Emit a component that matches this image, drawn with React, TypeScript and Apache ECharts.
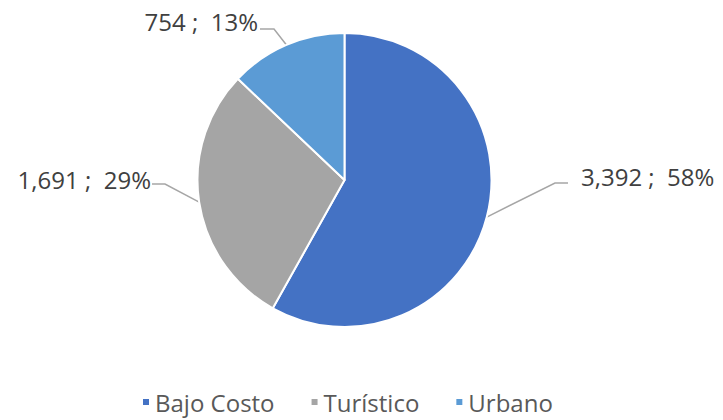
import React, { useEffect, useRef } from "react";
import * as echarts from "echarts";

const categories = ["Bajo Costo", "Turístico", "Urbano"];
const values = [3392, 1691, 754];
const colors = ["#4472C4", "#A5A5A5", "#5B9BD5"];

// label placement: [x, y, align, elbowX, elbowY, endX]
const labelPlacement: [number, number, "left" | "right", number, number, number][] = [
  [581, 176, "left", 555, 183, 568],
  [151, 179, "right", 165, 184, 152],
  [258, 21, "right", 274, 29, 260],
];

export default function App() {
  const ref = useRef<HTMLDivElement>(null);
  useEffect(() => {
    if (!ref.current) return;
    const chart = echarts.init(ref.current, null, { renderer: "svg" });
    const font = "'Open Sans', 'DejaVu Sans', sans-serif";
    chart.setOption({
      animation: false,
      color: colors,
      legend: {
        data: categories,
        bottom: 1,
        left: 136,
        icon: "rect",
        itemWidth: 8,
        itemHeight: 8,
        itemGap: 35,
        textStyle: { color: "#595959", fontSize: 24, fontFamily: font },
      },
      series: [
        {
          type: "pie",
          center: [344.5, 180],
          radius: 147,
          startAngle: 90,
          clockwise: true,
          itemStyle: { borderColor: "#fff", borderWidth: 2 },
          label: {
            show: true,
            color: "#404040",
            fontSize: 24,
            fontFamily: font,
            formatter: (p: any) =>
              `${p.value.toLocaleString("en-US")} ;  ${Math.round(p.percent)}%`,
          },
          labelLine: {
            show: true,
            length: 20,
            length2: 15,
            lineStyle: { color: "#A6A6A6", width: 1.5 },
          },
          labelLayout: (params: any) => {
            const lp = labelPlacement[params.dataIndex];
            const p0 = params.labelLinePoints ? params.labelLinePoints[0] : [lp[3], lp[4]];
            return {
              x: lp[0],
              y: lp[1],
              align: lp[2],
              verticalAlign: "middle",
              labelLinePoints: [p0, [lp[3], lp[4]], [lp[5], lp[4]]],
            };
          },
          data: categories.map((name, i) => ({ name, value: values[i] })),
        },
      ],
    });
    return () => chart.dispose();
  }, []);
  return (
    <div
      ref={ref}
      style={{ position: "fixed", left: 0, top: 0, width: 723, height: 420, background: "#fff" }}
    />
  );
}
